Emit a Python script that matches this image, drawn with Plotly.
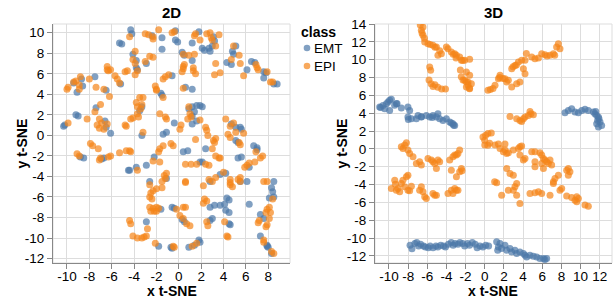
import plotly.graph_objects as go

BLUE = "#4c78a8"
ORANGE = "#f58518"

classes = ["EMT", "EPI"]
panel_titles = ["2D", "3D"]
axis_titles = ["x t-SNE", "y t-SNE"]
legend_title = "class"
x_ticks_2d = [-10, -8, -6, -4, -2, 0, 2, 4, 6, 8]
y_ticks_2d = [-12, -10, -8, -6, -4, -2, 0, 2, 4, 6, 8, 10]
x_ticks_3d = [-10, -8, -6, -4, -2, 0, 2, 4, 6, 8, 10, 12]
y_ticks_3d = [-12, -10, -8, -6, -4, -2, 0, 2, 4, 6, 8, 10, 12, 14]

emt_2d = [
    (-4.3,10.3),(-4.2,9.9),(-2.4,9.7),(-1.5,9.5),(-0.3,10.2),(-0.3,9.3),(-0.1,9.1),(1.8,10.1),(1.2,9.0),
    (2.1,8.5),(2.3,8.3),(2.7,8.5),(3.1,9.6),(3.2,9.2),(3.0,8.7),(2.8,8.2),(-5.3,9.0),(-5.1,8.9),(-4.1,7.9),
    (-3.8,7.3),(-3.8,6.6),(-3.7,6.4),(-2.9,7.0),(-1.5,8.4),(0.3,8.1),(0.5,7.8),(1.2,7.3),(4.3,7.1),(4.7,6.9),
    (4.8,8.2),(4.9,7.9),(5.1,8.7),(6.1,6.4),(6.5,7.2),(6.8,7.1),(7.6,6.2),(7.8,6.1),(7.6,5.6),(8.5,5.0),
    (8.8,5.0),(-9.4,5.1),(-9.1,4.2),(-8.7,5.5),(-8.6,4.8),(-7.5,5.7),(-5.2,5.0),(-6.5,4.4),(-1.6,4.1),
    (-1.5,3.9),(-0.6,5.8),(0.6,4.7),(1.2,4.5),
    (-10.3,0.9),(-10.2,1.0),(-9.2,2.0),(-9.0,1.9),(-7.4,2.7),(-6.6,1.4),(-6.5,0.8),(-6.1,0.2),(-3.5,2.4),
    (-3.3,2.8),(-3.3,0.0),(-0.4,1.2),(-1.4,0.1),(-1.1,0.3),(0.9,2.6),(1.2,2.8),(1.6,2.9),(1.9,2.9),(2.1,2.8),
    (1.4,2.3),(1.2,1.9),(1.2,1.1),(1.6,1.4),(4.7,1.1),(5.1,0.8),(5.5,0.8),(5.6,0.6),(5.1,-0.5),(5.3,-0.7),
    (6.7,-1.0),(7.0,-1.2),(7.0,-1.4),
    (-8.8,-2.1),(-8.5,-2.2),(-6.9,-2.3),(-6.7,-2.2),(-4.5,-3.4),(-4.4,-3.4),(-3.8,-3.1),(-2.9,-2.9),
    (-2.2,-2.1),(-2.6,-4.5),(-1.1,-4.2),(-1.6,-7.2),(-2.9,-8.4),(-1.8,-10.8),(-0.6,-11.0),(-0.7,-10.9),
    (-0.6,-7.0),(-0.4,-7.1),(0.3,-8.2),(0.5,-8.4),(0.9,-10.9),(1.4,-10.7),(1.8,-10.2),(1.9,-10.4),(0.4,-1.6),
    (0.8,-1.5),(1.9,-2.6),(2.1,-2.6),(2.4,-1.3),(2.8,-4.5),(3.7,-3.8),(4.2,-3.7),(2.8,-7.0),(3.2,-6.8),
    (3.7,-6.8),(4.1,-6.7),(4.3,-6.1),(4.5,-6.3),(4.2,-7.3),(4.5,-7.5),(5.5,-4.5),(6.1,-4.5),(6.3,-3.1),
    (5.3,-2.2),(5.6,-2.1),(6.3,-6.7),(8.5,-4.5),(8.3,-5.1),(8.4,-5.5),(8.1,-6.1),(8.5,-6.0),(7.3,-7.7),
    (7.6,-8.1),(7.3,-9.8),(7.9,-10.7),(8.0,-10.9),(7.9,-10.8),(8.3,-11.5),(4.6,-8.7),(4.5,-8.6),(2.8,-8.3),
    (3.0,-8.1),
]

epi_2d = [
    (-4.4,9.6),(-3.0,9.9),(-2.7,9.8),(-2.3,9.6),(-2.3,9.4),(-1.8,10.3),(-0.6,10.0),(-0.4,10.1),(1.4,9.7),
    (1.5,9.9),(1.9,9.3),(2.5,9.9),(2.8,10.0),(3.6,9.8),(3.0,9.3),(2.9,9.5),(3.3,8.7),(-3.9,8.2),(-4.1,7.4),
    (-3.9,7.0),(-3.0,7.2),(-2.6,7.7),(-2.3,7.6),(0.4,7.9),(0.9,7.8),(1.4,7.9),(1.3,6.6),(1.3,6.3),(1.5,6.0),
    (3.3,7.0),(3.2,5.9),(3.7,6.1),(4.9,8.7),(5.4,7.8),(4.7,7.4),(5.5,7.0),(5.8,5.8),(6.9,6.9),(7.0,6.6),
    (7.1,6.4),(7.9,6.2),(8.2,5.2),(8.4,5.2),(-10.0,4.5),(-9.9,4.7),(-9.4,5.2),(-9.2,5.3),(-8.9,4.9),(-8.8,5.7),
    (-8.9,4.5),(-8.0,5.5),(-7.4,4.7),(-6.7,4.5),(-6.2,3.8),(-6.4,6.7),(-6.3,6.3),(-6.1,6.4),(-6.4,6.4),
    (-5.7,5.8),(-5.5,5.5),(-5.3,5.1),(-4.8,6.2),(-4.6,6.3),(-3.9,5.9),(-3.7,6.3),(-2.1,4.8),(-2.0,4.5),
    (-2.0,4.4),(-1.4,3.7),(-1.4,5.5),(-1.2,5.7),(-0.9,5.9),(0.4,4.6),(0.4,6.5),(0.4,6.7),(0.5,6.9),(0.3,6.2),
    (-9.9,1.2),(-8.2,1.6),(-7.5,2.3),(-7.0,3.0),(-7.1,1.6),(-7.3,1.0),(-7.1,0.7),(-6.9,1.2),(-6.4,1.1),
    (-6.7,0.6),(-4.7,0.9),(-4.8,1.0),(-4.3,1.6),(-4.1,1.7),(-3.8,3.2),(-3.7,2.8),(-3.5,3.7),(-3.2,3.7),
    (-3.4,2.6),(-3.3,3.0),(-3.7,2.1),(-3.6,1.8),(-3.2,0.3),(-1.7,2.1),(-1.2,1.8),(-1.1,1.6),(0.1,0.6),
    (0.2,1.0),(0.9,2.8),(1.0,2.1),(0.8,1.6),(1.1,1.8),(1.9,1.5),(2.4,0.8),(2.5,0.5),(2.6,0.0),(3.1,-0.5),
    (3.3,-0.3),(3.2,-0.7),(4.2,1.6),(4.6,0.9),(4.9,1.2),(4.4,0.1),(5.1,0.3),(5.8,0.2),(5.5,-0.9),(4.6,-0.2),
    (-9.1,-1.8),(-8.9,-2.0),(-7.9,-0.8),(-7.7,-1.0),(-7.2,-1.3),(-7.1,-2.4),(-7.0,-2.2),(-6.3,-2.1),
    (-6.1,-2.0),(-5.3,-1.7),(-4.7,-1.5),(-4.4,-1.5),(-4.3,-1.6),(-3.7,-3.4),(-2.3,-2.5),(-1.7,-2.6),
    (-1.7,-1.3),(-1.4,-1.0),(-1.8,-1.6),(-0.7,-0.8),(-0.5,-1.0),(-2.6,-4.8),(-2.5,-5.6),(-2.3,-5.4),
    (-2.0,-5.2),(-1.5,-5.1),(-1.5,-4.5),(-1.2,-4.2),(-1.1,-3.7),(-1.3,-3.9),(-2.6,-6.0),(-2.4,-6.2),
    (-2.6,-7.0),(-2.3,-7.1),(-2.5,-7.4),(-2.2,-7.4),(-2.0,-7.4),(-2.0,-7.0),(-1.8,-7.1),(-4.4,-8.3),
    (-4.3,-8.6),(-2.8,-9.1),(-4.1,-9.8),(-3.7,-10.0),(-3.3,-10.0),(-3.1,-9.9),(-2.9,-9.8),(-2.1,-10.5),
    (-0.5,-10.8),(-0.4,-10.9),(-0.2,-7.2),(0.4,-7.0),(0.6,-7.0),(0.1,-7.8),(0.4,-8.1),(0.7,-8.6),(1.0,-8.8),
    (1.2,-10.8),(1.6,-10.5),(0.6,-4.6),(0.6,-4.5),(0.6,-2.8),(1.1,-2.8),(1.6,-2.8),(2.4,-2.8),(2.7,-2.9),
    (1.5,-0.4),(3.0,-1.3),(3.3,-2.0),(3.6,-2.2),(3.7,-2.2),(2.2,-4.9),(3.0,-4.5),(2.7,-4.3),(2.3,-6.2),
    (2.2,-6.6),(2.5,-6.4),(3.3,-4.1),(4.0,-3.6),(4.6,-4.8),(4.8,-5.0),(4.6,-4.3),(4.6,-4.6),(5.3,-4.3),
    (5.5,-4.1),(5.5,-4.5),(5.9,-3.1),(6.1,-2.9),(6.3,-2.7),(6.8,-2.6),(7.3,-2.2),(7.5,-2.0),(6.9,-1.6),
    (5.4,-0.7),(7.6,-4.5),(7.9,-4.5),(8.4,-6.2),(8.1,-7.0),(7.9,-7.2),(8.2,-7.5),(7.8,-7.5),(7.2,-8.3),
    (7.1,-8.5),(7.9,-8.7),(7.8,-8.9),(8.1,-8.1),(7.6,-10.2),(7.6,-10.4),(8.3,-11.3),(8.5,-11.5),(4.1,-8.4),
    (4.3,-9.8),(4.4,-9.9),(2.5,-8.4),(2.6,-8.8),
]

emt_3d = [
    (-10.97,4.68),(-10.63,4.87),(-10.27,5.06),(-10.1,5.25),(-9.93,5.44),(-9.75,5.55),(-10.45,4.49),
    (-9.93,4.31),(-9.23,5.06),(-8.71,4.57),(-8.02,4.68),(-7.84,4.31),(-8.02,3.56),(-7.66,3.37),(-7.14,3.37),
    (-6.97,3.75),(-6.62,3.56),(-6.1,3.75),(-5.75,3.56),(-5.41,3.75),(-5.05,3.56),(-4.89,3.93),(-4.71,3.37),
    (-4.36,3.19),(-4.01,3.37),(-3.66,3.0),(-3.32,2.81),(-3.14,2.63),(-10.87,4.64),(-9.41,4.9),(-9.16,5.09),
    (-7.98,3.29),(-6.62,3.59),(-5.48,3.51),(-3.49,2.91),(-3.25,2.65),
    (8.37,4.05),(8.72,4.31),(9.07,4.49),(9.42,4.12),(9.77,4.05),(10.12,4.31),(10.46,4.43),(10.81,4.31),
    (11.34,4.12),(11.5,3.93),(11.68,3.75),(11.86,3.56),(11.78,3.19),(12.03,3.0),(12.2,2.63),(11.86,2.44),
    (11.68,2.81),(11.92,3.37),(11.58,4.2),
    (-7.8,-10.8),(-7.6,-11.2),(-7.3,-10.6),(-7.1,-10.5),(-6.9,-10.9),(-6.7,-10.7),(-6.4,-10.9),(-6.2,-11.0),
    (-5.9,-11.1),(-5.7,-10.9),(-5.4,-11.1),(-5.1,-10.9),(-4.9,-11.0),(-4.6,-10.8),(-4.3,-10.9),(-4.1,-11.0),
    (-3.8,-10.7),(-3.5,-10.5),(-3.3,-10.8),(-3.1,-10.6),(-2.8,-10.7),(-2.6,-10.5),(-2.3,-10.6),(-2.1,-10.9),
    (-1.8,-10.6),(-1.6,-10.8),(-1.3,-10.5),(-1.0,-10.7),(-0.8,-11.1),(-0.5,-10.9),(-0.2,-11.0),(0.1,-10.8),
    (0.4,-10.9),
    (1.24,-10.43),(1.42,-11.0),(1.59,-10.61),(1.35,-11.37),(1.76,-11.17),(2.11,-10.8),(2.29,-11.37),
    (2.63,-11.17),(2.81,-11.56),(3.15,-11.37),(3.33,-11.74),(3.67,-11.56),(4.03,-11.74),(4.2,-11.93),
    (4.37,-12.12),(4.72,-11.93),(5.07,-12.04),(5.42,-12.12),(5.76,-12.3),(6.12,-12.3),(6.28,-12.41),
    (6.46,-12.3),
]

epi_3d = [
    (-2.1,9.93),(-1.58,10.04),(-1.92,8.61),(-1.58,8.24),(-2.1,7.68),(-1.75,7.49),(-1.4,7.3),(-1.92,6.93),
    (-1.58,6.74),(-3.14,10.67),(-2.96,10.49),(-2.62,10.3),(-2.44,9.93),(-3.49,10.86),(-3.84,11.23),
    (-4.01,11.42),(-4.53,10.67),(-4.89,10.49),(-5.05,11.42),(-5.41,11.61),(-5.93,11.79),(-6.27,11.98),
    (-6.45,12.73),(-6.62,13.29),(-6.45,13.66),(-5.75,9.17),(-5.65,8.8),(-6.73,13.9),(-6.55,13.0),
    (-6.3,12.4),(-5.7,11.7),(-5.2,11.4),(-4.7,11.0),(-3.3,10.6),(-3.0,10.2),(-2.3,9.9),
    (-5.2,7.2),(-4.9,6.9),(-4.5,6.7),(-4.1,6.7),(-5.82,7.71),(-5.6,7.3),(-5.4,7.0),(-2.55,8.83),(-2.45,8.08),
    (-2.27,7.71),(-1.93,7.52),(-1.75,7.15),(-1.6,6.8),
    (0.33,6.58),(0.58,6.66),(0.86,6.77),(1.07,7.12),(1.42,7.86),(1.59,8.24),(2.11,7.86),(2.46,7.68),
    (2.81,8.98),(3.15,9.36),(3.51,9.74),(3.85,9.93),(4.2,9.93),(4.03,8.98),(4.2,8.42),(4.9,10.3),(5.24,10.1),
    (5.6,10.2),(5.94,10.67),(6.28,10.56),(6.81,10.49),(7.16,10.67),(7.5,11.42),(7.68,11.79),(7.85,11.23),
    (3.33,7.3),(3.67,7.49),(2.81,6.93),(2.29,7.49),(1.55,8.01),(1.9,7.9),(2.95,9.21),(3.3,9.4),(4.34,10.7),
    (6.5,10.4),(7.3,10.5),
    (2.63,3.64),(3.33,3.37),(3.67,3.19),(3.85,3.08),(4.03,3.37),(4.2,3.56),(4.55,3.75),(4.72,4.2),(4.82,3.93),
    (5.07,3.82),
    (-8.71,0.23),(-8.36,0.42),(-8.18,0.68),(-8.54,0.05),(-8.02,-0.14),(-7.84,-0.51),(-7.49,-0.89),
    (-7.14,-1.63),(-6.8,-1.45),(-6.62,-1.82),(-5.93,-1.07),(-5.57,-1.26),(-5.41,-1.45),(-5.23,-1.63),
    (-5.05,-2.2),(-4.89,-1.26),(-4.71,-1.45),(-3.66,-1.26),(-3.32,-0.89),(-3.14,-0.7),(-2.96,-0.7),
    (-2.8,-0.51),(-2.62,-0.14),(-3.49,-2.39),(-2.96,-3.14),(-2.62,-2.58),(-2.44,-2.2),(-2.38,-2.46),
    (-9.75,-4.44),(-9.4,-3.51),(-9.33,-3.96),(-9.23,-4.63),(-9.06,-4.44),(-8.71,-3.88),(-8.54,-3.51),
    (-8.18,-3.14),(-8.02,-2.95),(-8.36,-4.26),(-8.02,-4.63),(-7.84,-4.71),(-8.88,-4.82),(-7.66,-4.18),
    (-6.8,-4.63),(-6.62,-4.26),(-6.45,-4.82),(-6.27,-5.38),(-6.1,-5.56),(-5.41,-5.0),(-5.23,-5.19),
    (-5.05,-5.19),(-3.84,-5.0),(-3.49,-4.63),(-3.14,-4.44),(-2.96,-4.63),(-2.8,-4.63),(-3.32,-5.0),
    (0.0,0.42),(0.5,0.64),(1.03,-3.7),(-0.19,1.34),(0.09,1.53),(-0.01,0.97),(0.33,1.72),(0.68,1.79),(0.33,0.4),
    (1.07,0.42),(1.42,0.53),(1.59,0.05),(1.94,-0.33),(2.11,-0.14),(2.29,-0.51),(2.46,-0.44),(2.11,0.53),
    (2.98,-0.14),(3.51,0.05),(3.67,0.23),(3.85,0.31),(3.67,-0.7),(4.03,-1.26),(4.2,-1.07),(4.9,-0.33),
    (5.24,-0.33),(5.76,-0.44),(5.94,-0.7),(6.12,-1.07),(6.28,-1.26),(6.46,-1.45),(6.64,-1.63),(6.98,-1.82),
    (6.81,-1.26),(5.24,-2.01),(5.94,-1.63),(6.12,-2.2),(8.55,-2.39),(8.72,-2.2),(8.89,-2.58),(8.72,-2.95),
    (7.68,-2.95),(7.33,-3.32),(7.16,-3.7),(7.16,-3.88),(7.85,-4.63),(8.03,-4.44),(6.81,-5.19),(5.94,-5.0),
    (5.6,-4.82),(5.24,-4.93),(4.72,-5.0),(3.33,-3.88),(3.15,-4.26),(2.98,-4.63),(3.33,-5.19),(3.67,-6.12),
    (2.46,-4.63),(1.76,-5.19),(1.24,-3.81),(2.29,-2.2),(2.63,-2.77),(2.98,-2.95),(8.55,-5.3),(9.07,-5.45),
    (9.42,-5.75),(9.6,-5.38),(9.77,-5.56),(9.6,-5.94),(10.46,-6.31),(10.81,-6.43),(5.24,-1.45),
]

fig = go.Figure()

panels = [
    ("x", "y", {"EMT": emt_2d, "EPI": epi_2d}),
    ("x2", "y2", {"EMT": emt_3d, "EPI": epi_3d}),
]
colors = {"EMT": BLUE, "EPI": ORANGE}
for i, (xa, ya, series) in enumerate(panels):
    for cls in classes:
        pts = series[cls]
        fig.add_trace(go.Scatter(
            x=[p[0] for p in pts], y=[p[1] for p in pts],
            mode="markers", name=cls, showlegend=False,
            xaxis=xa, yaxis=ya,
            marker=dict(color=colors[cls], size=7, opacity=0.7, line=dict(width=0)),
        ))

FONT = "Liberation Sans, Arial, sans-serif"
axis_common = dict(
    showgrid=True, gridcolor="#dddddd", gridwidth=1, zeroline=False,
    showline=True, linecolor="#888888", linewidth=1,
    ticks="outside", ticklen=5, tickcolor="#888888", tickangle=0,
    tickfont=dict(family=FONT, size=13.5, color="#000"),
    automargin=False,
)

def ticks(vals):
    return dict(tickvals=vals, ticktext=[str(v) for v in vals])

# plot area: left 53, top 24, bottom 263 (paper height 239, width 559)
W, H, L, T = 559.0, 239.0, 53, 24

def px_x(p):
    return (p - L) / W

def px_y(p):
    return (T + H - p) / H

annotations = [
    dict(text="<b>%s</b>" % panel_titles[0], xref="x domain", yref="paper", x=0.5, y=1.0,
         yshift=12, showarrow=False, font=dict(size=15), xanchor="center", yanchor="middle"),
    dict(text="<b>%s</b>" % panel_titles[1], xref="x2 domain", yref="paper", x=0.5, y=1.0,
         yshift=12, showarrow=False, font=dict(size=15), xanchor="center", yanchor="middle"),
    dict(text="<b>%s</b>" % axis_titles[0], xref="x domain", yref="paper", x=0.5, y=0,
         yshift=-28, showarrow=False, font=dict(size=14), xanchor="center", yanchor="middle"),
    dict(text="<b>%s</b>" % axis_titles[0], xref="x2 domain", yref="paper", x=0.5, y=0,
         yshift=-28, showarrow=False, font=dict(size=14), xanchor="center", yanchor="middle"),
    dict(text="<b>%s</b>" % axis_titles[1], xref="x domain", yref="y domain", x=0, y=0.5,
         xshift=-32, showarrow=False, font=dict(size=14), textangle=-90,
         xanchor="center", yanchor="middle"),
    dict(text="<b>%s</b>" % axis_titles[1], xref="x2 domain", yref="y2 domain", x=0, y=0.5,
         xshift=-33, showarrow=False, font=dict(size=14), textangle=-90,
         xanchor="center", yanchor="middle"),
    dict(text="<b>%s</b>" % legend_title, xref="paper", yref="paper", x=px_x(299), y=px_y(32),
         showarrow=False, font=dict(size=14), xanchor="left", yanchor="middle"),
]
shapes = [
    dict(type="rect", xref="x domain", yref="y domain", x0=0, x1=1, y0=0, y1=1,
         line=dict(color="#dddddd", width=1), layer="below"),
    dict(type="rect", xref="x2 domain", yref="y2 domain", x0=0, x1=1, y0=0, y1=1,
         line=dict(color="#dddddd", width=1), layer="below"),
]
for k, cls in enumerate(classes):
    cy = 48 + 18 * k
    shapes.append(dict(type="circle", xref="paper", yref="paper",
                       xsizemode="pixel", ysizemode="pixel",
                       xanchor=px_x(307), yanchor=px_y(cy),
                       x0=-3.3, x1=3.3, y0=-3.3, y1=3.3,
                       fillcolor=colors[cls], opacity=0.7, line=dict(width=0)))
    annotations.append(dict(text=cls, xref="paper", yref="paper", x=px_x(312), y=px_y(cy),
                            showarrow=False, font=dict(size=13.5), xanchor="left",
                            yanchor="middle"))

fig.update_layout(
    width=616, height=302,
    margin=dict(l=53, r=4, t=24, b=39),
    plot_bgcolor="white", paper_bgcolor="white",
    font=dict(family=FONT, color="#000"),
    showlegend=False,
    xaxis=dict(domain=[0, 0.424], range=[-11.25, 9.95], ticklabelstandoff=-4,
               **ticks(x_ticks_2d), **axis_common),
    yaxis=dict(domain=[0, 1], range=[-12.43, 10.85], **ticks(y_ticks_2d), **axis_common),
    xaxis2=dict(domain=[0.576, 1], range=[-11.46, 13.28], anchor="y2", ticklabelstandoff=-4,
                **ticks(x_ticks_3d), **axis_common),
    yaxis2=dict(domain=[0, 1], range=[-12.8, 14.0], anchor="x2", **ticks(y_ticks_3d), **axis_common),
    annotations=annotations,
    shapes=shapes,
)

fig.write_html("out.html", config={"displayModeBar": False},
               post_script="document.body.style.margin='0';")
